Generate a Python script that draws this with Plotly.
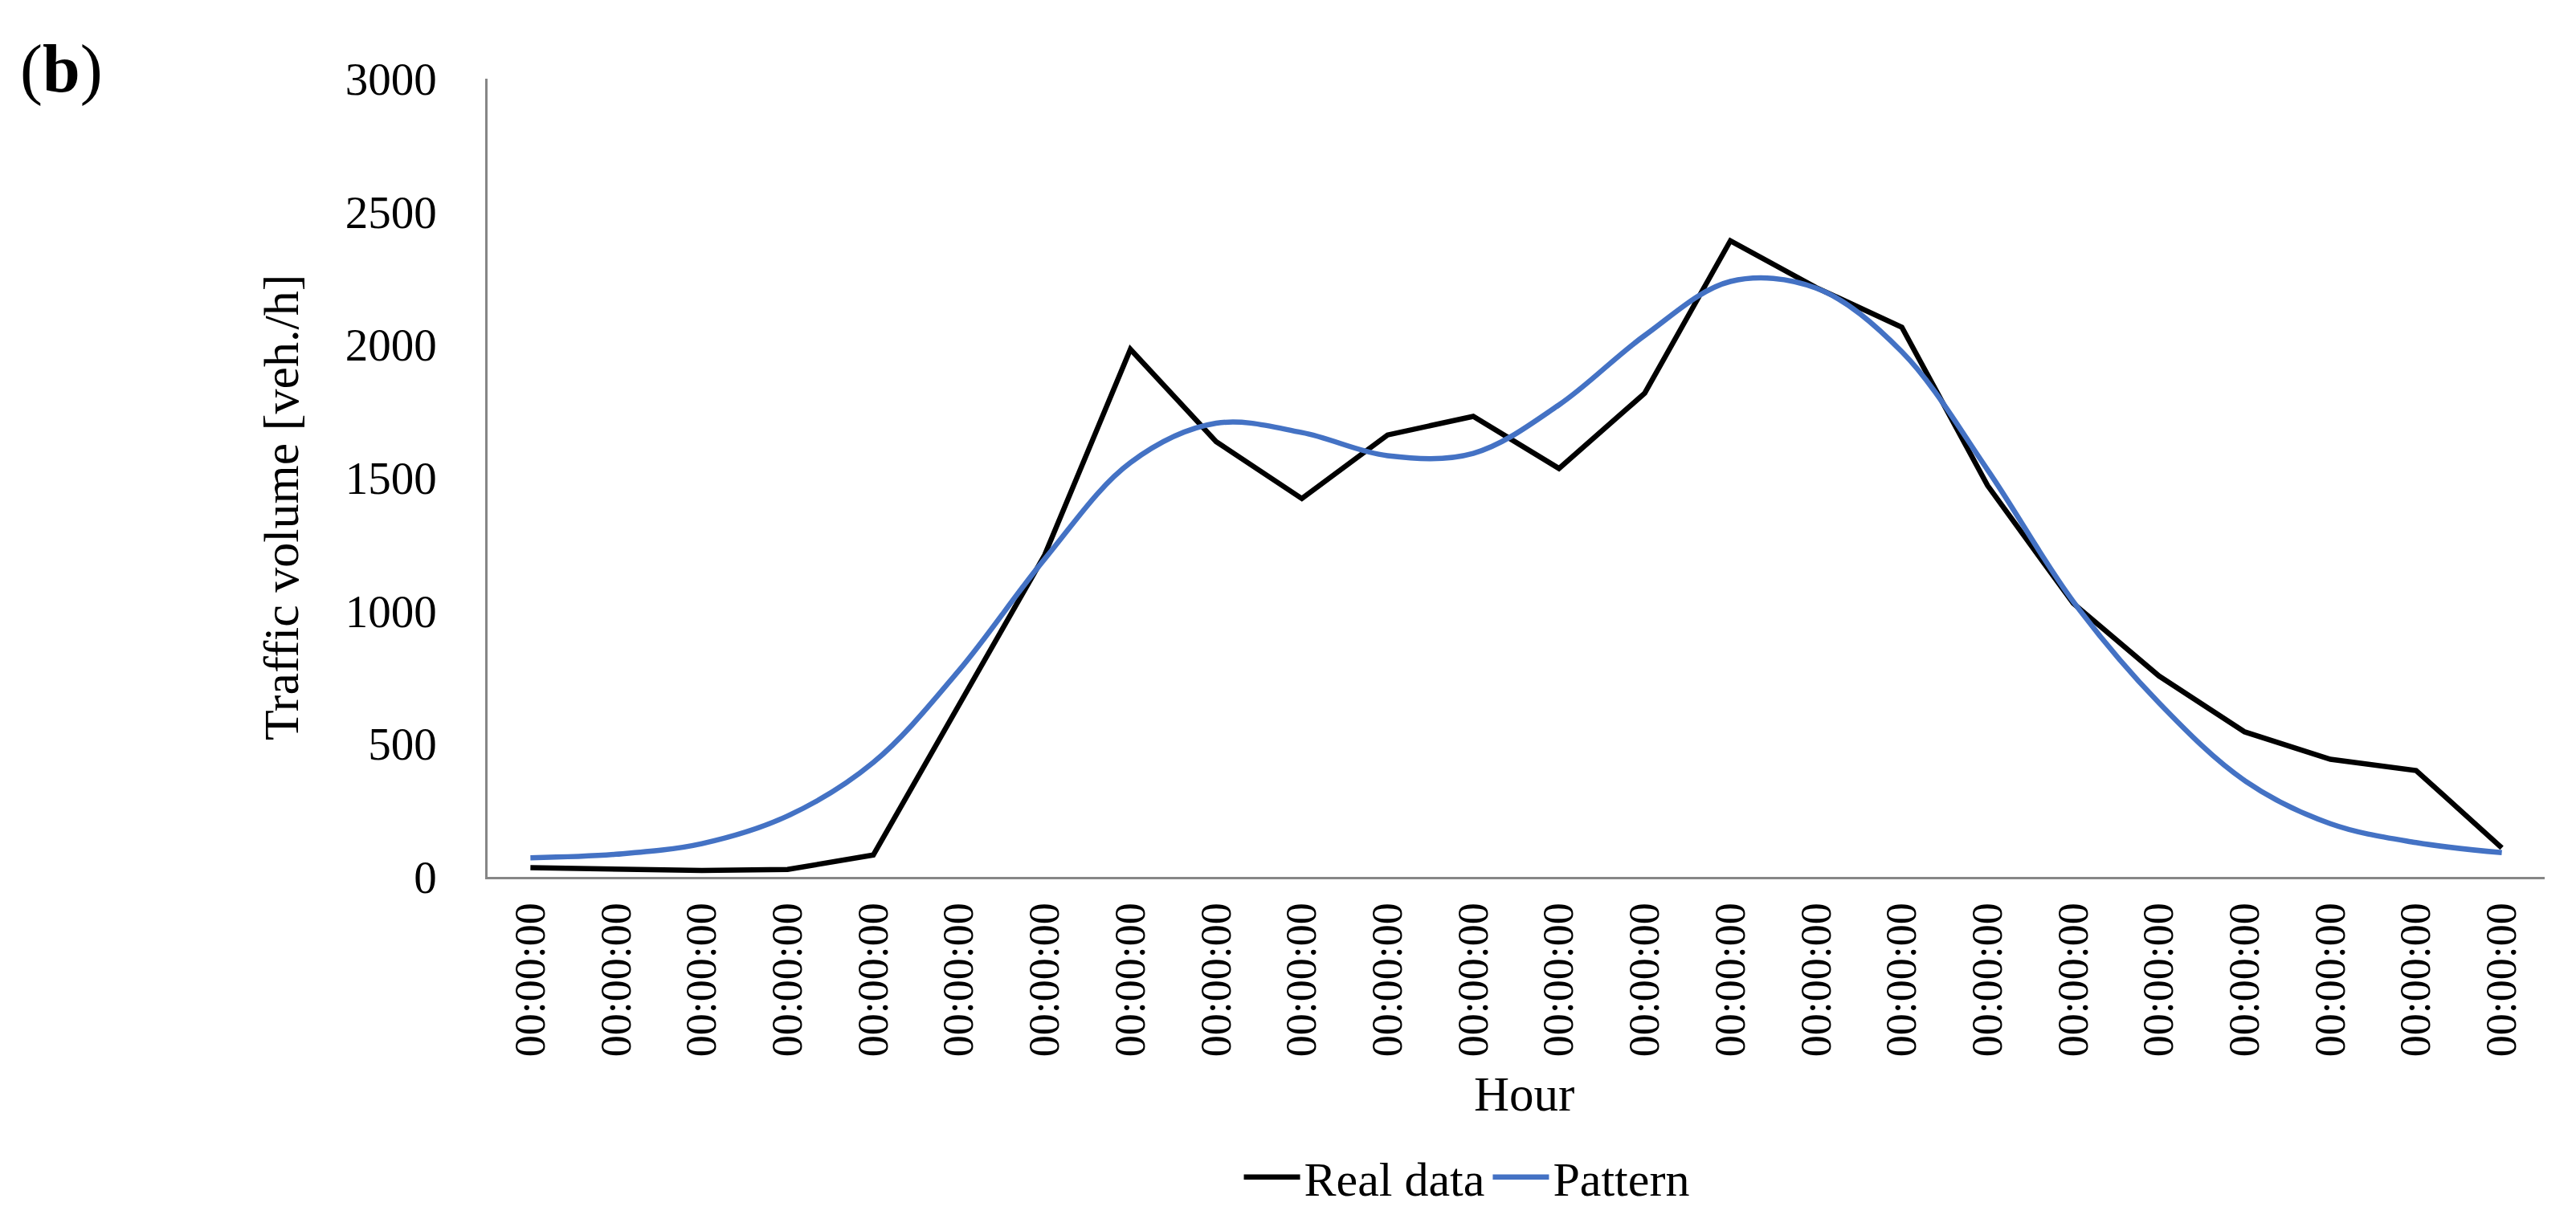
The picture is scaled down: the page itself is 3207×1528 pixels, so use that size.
import plotly.graph_objects as go

# ---- data ----
hour_labels = ["00:00:00"] * 24
hour_index = list(range(24))
real_data = [35, 30, 24, 28, 82, 646, 1210, 1983, 1636, 1422, 1661, 1731,
             1535, 1818, 2391, 2215, 2066, 1471, 1028, 755, 545, 442, 400, 109]
pattern = [72, 85, 125, 229, 430, 776, 1195, 1557, 1705, 1670, 1583, 1592,
           1774, 2035, 2238, 2213, 1974, 1530, 1035, 654, 362, 200, 129, 91]
y_ticks = [0, 500, 1000, 1500, 2000, 2500, 3000]

FONT = "Liberation Serif"
W, H = 3207, 1528
L, R, T, B = 599, 47, 90, 444

fig = go.Figure()
fig.add_trace(go.Scatter(x=hour_index, y=real_data, mode="lines", name="Real data",
                         line=dict(color="#000000", width=6.5)))
fig.add_trace(go.Scatter(x=hour_index, y=pattern, mode="lines", name="Pattern",
                         line=dict(color="#4472C4", width=6.5, shape="spline", smoothing=1.0)))

fig.update_layout(
    width=W, height=H,
    margin=dict(l=L, r=R, t=T, b=B, pad=0),
    paper_bgcolor="white", plot_bgcolor="white",
    font=dict(family=FONT, size=56, color="#000000"),
    showlegend=True,
    legend=dict(orientation="h", x=0.476, xanchor="center", y=-0.376, yanchor="middle",
                font=dict(family=FONT, size=60, color="#000000"),
                itemwidth=70, tracegroupgap=0, bgcolor="rgba(0,0,0,0)"),
    xaxis=dict(range=[-0.5, 23.5], tickvals=hour_index, ticktext=hour_labels,
               tickangle=-90, ticks="", showgrid=False, zeroline=False,
               showline=True, linecolor="#868686", linewidth=2.5,
               ticklabelstandoff=8,
               tickfont=dict(family=FONT, size=54, color="#000000")),
    yaxis=dict(range=[0, 3000], tickvals=y_ticks, ticks="", showgrid=False,
               zeroline=False, showline=True, linecolor="#868686", linewidth=2.5,
               ticklabelstandoff=49,
               tickfont=dict(family=FONT, size=57, color="#000000")),
    annotations=[
        dict(text="Traffic volume [veh./h]", xref="paper", yref="paper",
             x=-0.1003, y=0.463, textangle=-90, showarrow=False,
             xanchor="center", yanchor="middle",
             font=dict(family=FONT, size=62, color="#000000")),
        dict(text="Hour", xref="paper", yref="paper", x=0.504, y=-0.272,
             showarrow=False, xanchor="center", yanchor="middle",
             font=dict(family=FONT, size=61, color="#000000")),
        dict(text="(<b>b</b>)", xref="paper", yref="paper", x=-0.228, y=1.012,
             showarrow=False, xanchor="left", yanchor="middle",
             font=dict(family=FONT, size=84, color="#000000")),
    ],
)

fig.write_html("out.html")
